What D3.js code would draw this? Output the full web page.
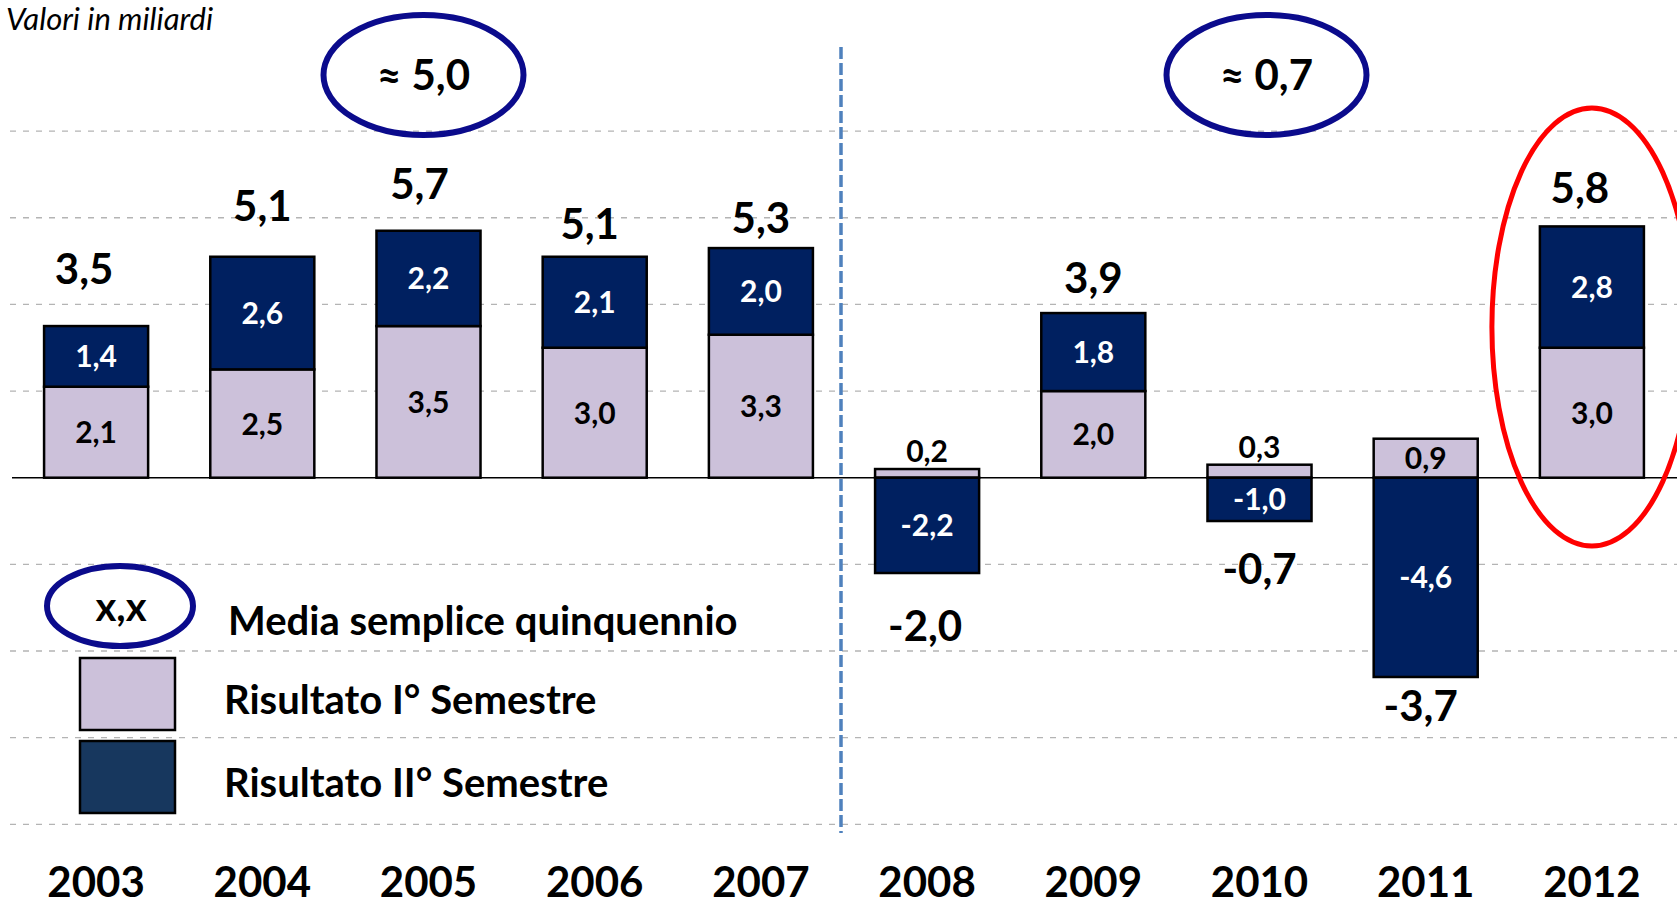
<html>
<head>
<meta charset="utf-8">
<script src="https://cdn.jsdelivr.net/npm/d3@7"></script>
<style>
  body { margin: 0; background: #fff; }
  svg { display: block; font-family: Lato, "Open Sans", sans-serif; }
  .grid line { stroke: #b4b4b4; stroke-width: 1.3; stroke-dasharray: 6 7; }
  .bar { stroke: #000; stroke-width: 2.5; }
  .big { font-weight: 700; font-size: 42px; }
  .small { font-weight: 700; font-size: 30px; }
  .leg { font-weight: 700; font-size: 40px; }
</style>
</head>
<body>
<div id="chart"></div>
<script>
// valori in miliardi
var years = ["2003", "2004", "2005", "2006", "2007", "2008", "2009", "2010", "2011", "2012"]
var primoSemestre = [2.1, 2.5, 3.5, 3.0, 3.3, 0.2, 2.0, 0.3, 0.9, 3.0]
var secondoSemestre = [1.4, 2.6, 2.2, 2.1, 2.0, -2.2, 1.8, -1.0, -4.6, 2.8]
var totaleAnno = [3.5, 5.1, 5.7, 5.1, 5.3, -2.0, 3.9, -0.7, -3.7, 5.8]

// media semplice quinquennio, collocata sopra l'anno centrale
var periodoCentro = ["2005", "2010"]
var mediaQuinquennio = [5.0, 0.7]

var yTicks = [-8, -6, -4, -2, 2, 4, 6, 8]

// piccoli spostamenti delle etichette (come nell'originale)
var totGap = [42, 36, 32, 18, 15, 39, 20, 34, 15, 23]
var totShift = [-12, 0, -9, -5, 0, -2, 0, 0, -5, -12]
var ovalShift = [-5, 7]

var width = 1677, height = 908
var colI = "#ccc1da", colII = "#002060", colLegII = "#17375e", colOval = "#0b0b8c"
var fmt = function(v) { return d3.format(".1f")(v).replace(".", ",").replace("−", "-") }

var svg = d3.select("#chart").append("svg")
    .attr("width", width)
    .attr("height", height)

var x = d3.scaleBand()
    .domain(years)
    .range([13, 1675])
    .paddingInner(0.374)
    .paddingOuter(0.187)

var y = d3.scaleLinear()
    .domain([-8, 8])
    .range([824.3, 131.1])

// griglia
svg.append("g").attr("class", "grid")
  .selectAll("line")
  .data(yTicks)
  .join("line")
    .attr("x1", 10).attr("x2", width)
    .attr("y1", d => y(d)).attr("y2", d => y(d))

var rows = years.map((yr, i) => ({year: yr, I: primoSemestre[i], II: secondoSemestre[i], tot: totaleAnno[i], i: i}))

var series = d3.stack()
    .keys(["I", "II"])
    .offset(d3.stackOffsetDiverging)(rows)

var colors = {I: colI, II: colII}

var bars = svg.append("g")
series.forEach(function(s) {
  bars.selectAll(".s" + s.key)
    .data(s)
    .join("rect")
      .attr("class", "bar s" + s.key)
      .attr("x", d => x(d.data.year))
      .attr("width", x.bandwidth())
      .attr("y", d => y(Math.max(d[0], d[1])))
      .attr("height", d => Math.abs(y(d[0]) - y(d[1])))
      .attr("fill", colors[s.key])
})

// asse dello zero
svg.append("line")
    .attr("x1", 12).attr("x2", width)
    .attr("y1", y(0)).attr("y2", y(0))
    .attr("stroke", "#000").attr("stroke-width", 1.5)

// etichette dei segmenti
series.forEach(function(s) {
  svg.append("g").selectAll("text")
    .data(s)
    .join("text")
      .attr("class", "small")
      .attr("text-anchor", "middle")
      .attr("x", d => x(d.data.year) + x.bandwidth() / 2)
      .attr("y", function(d) {
        var h = Math.abs(y(d[0]) - y(d[1]))
        if (h < 25) return y(Math.max(d[0], d[1])) - 7
        return (y(d[0]) + y(d[1])) / 2 + 11
      })
      .attr("fill", function(d) {
        var h = Math.abs(y(d[0]) - y(d[1]))
        return (s.key == "II" && h >= 25) ? "#fff" : "#000"
      })
      .text(d => fmt(d.data[s.key]))
})

// totali annui
svg.append("g").selectAll("text")
  .data(rows)
  .join("text")
    .attr("class", "big")
    .attr("text-anchor", "middle")
    .attr("x", d => x(d.year) + x.bandwidth() / 2 + totShift[d.i])
    .attr("y", function(d) {
      if (d.tot >= 0) return y(Math.max(d.I, 0) + Math.max(d.II, 0)) - totGap[d.i]
      return y(Math.min(d.I, 0) + Math.min(d.II, 0)) + totGap[d.i] + 29
    })
    .text(d => fmt(d.tot))

// anni
svg.append("g").selectAll("text")
  .data(years)
  .join("text")
    .attr("class", "big")
    .attr("text-anchor", "middle")
    .attr("x", d => x(d) + x.bandwidth() / 2)
    .attr("y", 897)
    .text(d => d)

// separatore tra i due quinquenni
var sepX = (x("2007") + x.bandwidth() + x("2008")) / 2 - 3
svg.append("line")
    .attr("x1", sepX).attr("x2", sepX)
    .attr("y1", 47).attr("y2", 833)
    .attr("stroke", "#4f81bd").attr("stroke-width", 3.5)
    .attr("stroke-dasharray", "12 4")

// ovali della media
var medie = svg.append("g").selectAll("g")
  .data(mediaQuinquennio)
  .join("g")
    .attr("transform", (d, i) => `translate(${x(periodoCentro[i]) + x.bandwidth() / 2 + ovalShift[i]},75)`)
medie.append("ellipse")
    .attr("rx", 100).attr("ry", 60)
    .attr("fill", "none").attr("stroke", colOval).attr("stroke-width", 6)
medie.append("text")
    .attr("class", "big")
    .attr("text-anchor", "middle")
    .attr("y", 15)
    .text(d => "≈ " + fmt(d))

// ovale rosso sul 2012
svg.append("ellipse")
    .attr("cx", x("2012") + x.bandwidth() / 2)
    .attr("cy", 327)
    .attr("rx", 100).attr("ry", 219)
    .attr("fill", "none").attr("stroke", "#ff0000").attr("stroke-width", 5)

// titolo
svg.append("text")
    .attr("x", 6).attr("y", 30)
    .attr("font-style", "italic")
    .attr("font-size", 31)
    .text("Valori in miliardi")

// legenda
var leg = svg.append("g")
leg.append("ellipse")
    .attr("cx", 120).attr("cy", 606).attr("rx", 73).attr("ry", 40)
    .attr("fill", "none").attr("stroke", colOval).attr("stroke-width", 6)
leg.append("text")
    .attr("class", "leg").attr("text-anchor", "middle")
    .attr("x", 121).attr("y", 621)
    .text("x,x")
leg.append("text")
    .attr("class", "leg")
    .attr("x", 228).attr("y", 635)
    .text("Media semplice quinquennio")

var legItems = [
  {label: "Risultato I° Semestre", fill: colI},
  {label: "Risultato II° Semestre", fill: colLegII}
]
var li = leg.selectAll(".li")
  .data(legItems)
  .join("g")
    .attr("transform", (d, i) => `translate(0,${i * 83})`)
li.append("rect")
    .attr("x", 80).attr("y", 658).attr("width", 95).attr("height", 72)
    .attr("fill", d => d.fill).attr("stroke", "#000").attr("stroke-width", 2.5)
li.append("text")
    .attr("class", "leg")
    .attr("x", 224).attr("y", 714)
    .text(d => d.label)
</script>
</body>
</html>
